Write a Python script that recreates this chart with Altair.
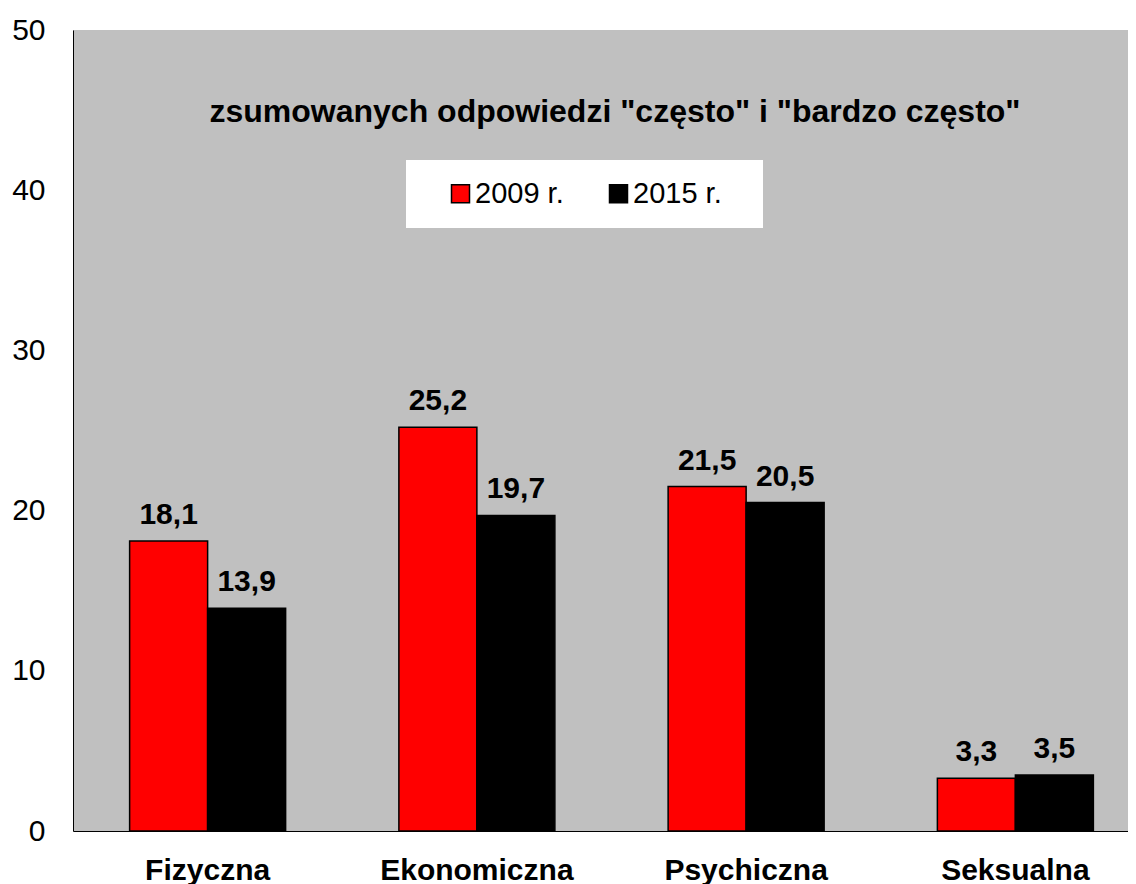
import altair as alt
import pandas as pd

categories = ["Fizyczna", "Ekonomiczna", "Psychiczna", "Seksualna"]
series = ["2009 r.", "2015 r."]
values_2009 = [18.1, 25.2, 21.5, 3.3]
values_2015 = [13.9, 19.7, 20.5, 3.5]
colors = ["#FF0000", "#000000"]
y_ticks = [0, 10, 20, 30, 40, 50]
title_text = 'zsumowanych odpowiedzi "często" i "bardzo często"'

rows = []
for s, vals in zip(series, [values_2009, values_2015]):
    for c, v in zip(categories, vals):
        rows.append({"kategoria": c, "rok": s, "wartosc": v,
                     "etykieta": f"{v:.1f}".replace(".", ",")})
df = pd.DataFrame(rows)

FONT = "Liberation Sans"

x = alt.X("kategoria:N", sort=categories,
          scale=alt.Scale(range=[0, 1077], paddingInner=0.4206, paddingOuter=0.2103),
          axis=alt.Axis(title=None, labelAngle=0, labelFontSize=30, labelFontWeight="bold",
                        labelColor="black", labelPadding=24, ticks=False, labelLimit=400,
                        domainColor="black", domainWidth=1, labelFont=FONT))
xo = alt.XOffset("rok:N", sort=series, scale=alt.Scale(paddingInner=0, paddingOuter=0))
y = alt.Y("wartosc:Q", scale=alt.Scale(domain=[0, 50], nice=False),
          axis=alt.Axis(values=y_ticks, title=None, grid=False, ticks=False, labelFontSize=30,
                        labelPadding=28, labelColor="black", domainColor="black",
                        domainWidth=1, labelFont=FONT))
color = alt.Color("rok:N", sort=series, scale=alt.Scale(domain=series, range=colors),
                  legend=alt.Legend(title="\u00a0", titleOrient="right", titlePadding=22,
                                    titleFontSize=29, titleColor="white",
                                    orient="none", legendX=333, legendY=130,
                                    direction="horizontal", fillColor="white", padding=19,
                                    symbolType="square", symbolSize=324,
                                    symbolStrokeColor="black", symbolStrokeWidth=1.5,
                                    labelFontSize=29, labelColor="black", labelOffset=0,
                                    columnPadding=19, symbolOffset=21, labelFont=FONT))

bars = alt.Chart(df).mark_bar(stroke="black", strokeWidth=1.5).encode(
    x=x, xOffset=xo, y=y, color=color)

labels = alt.Chart(df).mark_text(fontSize=30, fontWeight="bold", font=FONT, color="black",
                                 baseline="alphabetic", dy=-17).encode(
    x=x, xOffset=xo, y=y, text="etykieta:N")

title = alt.Chart(pd.DataFrame({"t": [title_text]})).mark_text(
    fontSize=32, fontWeight="bold", font=FONT, color="black", align="center",
    baseline="alphabetic").encode(x=alt.value(542), y=alt.value(92), text="t:N")

chart = alt.layer(bars, labels, title).properties(
    width=1055, height=801,
    padding={"left": 65, "top": 22, "right": 0, "bottom": 53},
    autosize=alt.AutoSizeParams(type="none"),
).configure(font=FONT).configure_view(fill="#C0C0C0", stroke=None)

chart.save("out.html", embed_options={"renderer": "svg", "actions": False})
